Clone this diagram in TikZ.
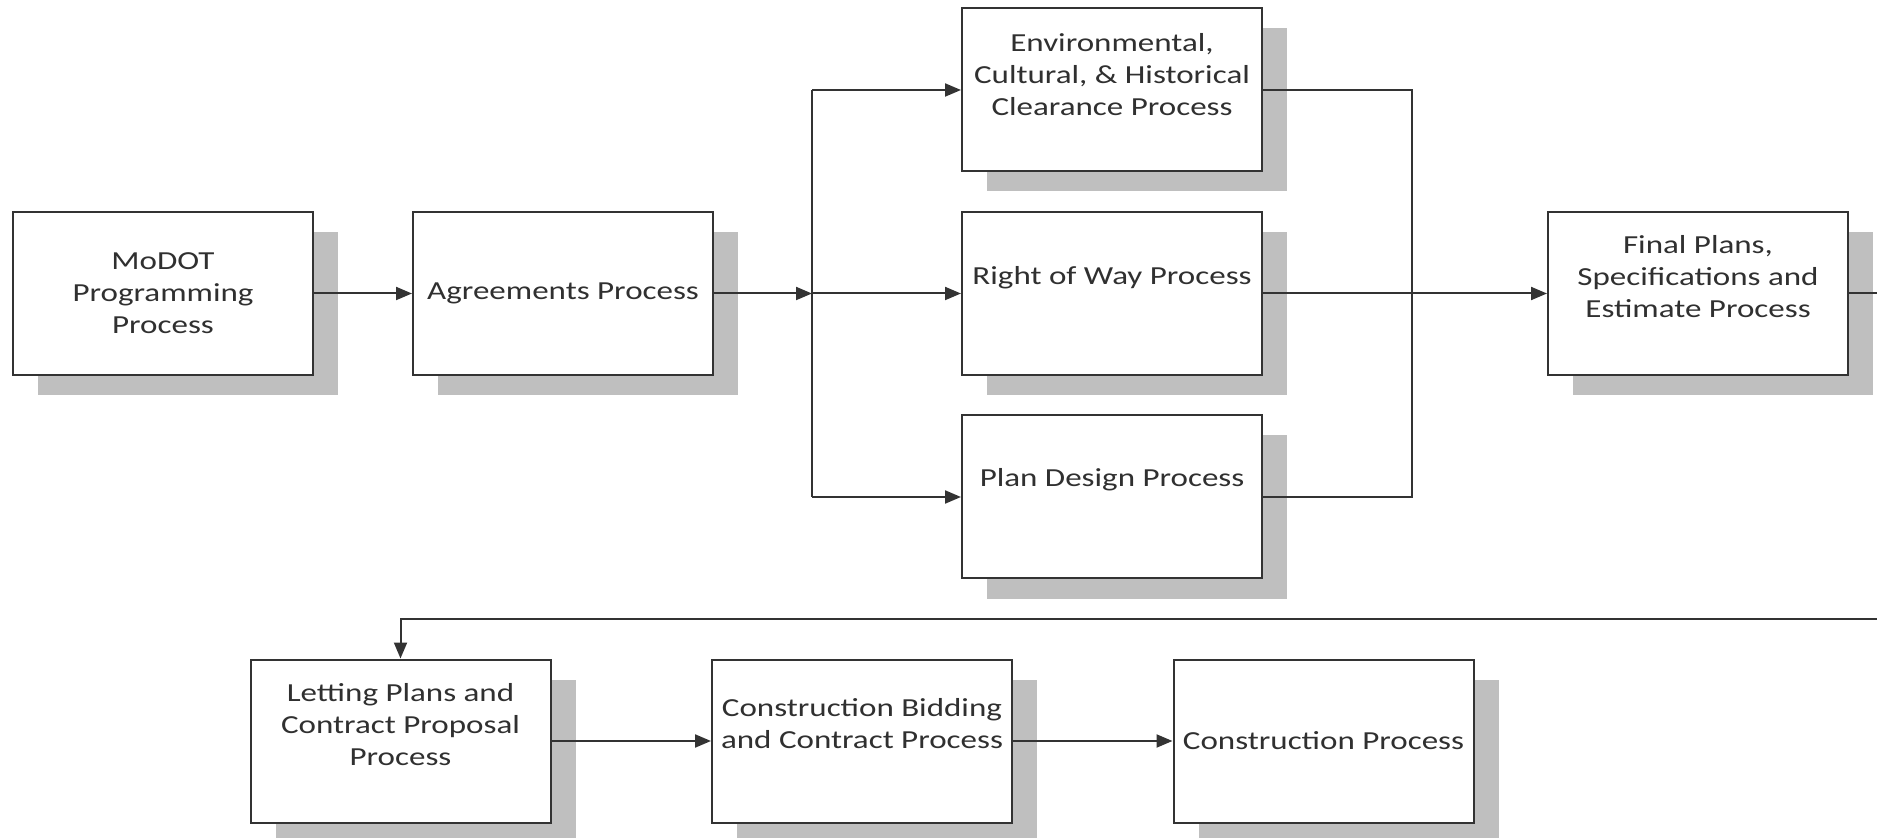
\documentclass[tikz,border=0pt]{standalone}
\usepackage{fontspec}
\setmainfont{Carlito}[FakeStretch=1.27]
\usetikzlibrary{arrows.meta,shadows}
\definecolor{linegray}{HTML}{333333}
\definecolor{shadowgray}{HTML}{BFBFBF}
\definecolor{textgray}{HTML}{303030}
\tikzset{
  procbox/.style={draw=linegray, line width=1pt, fill=white,
    minimum width=150pt, minimum height=81.5pt, inner sep=0pt,
    copy shadow={shadow xshift=12.5pt, shadow yshift=-10pt, fill=shadowgray, draw=none}},
  boxtext/.style={align=center, text=textgray, inner sep=0pt,
    font=\fontsize{13pt}{16pt}\selectfont},
  conn/.style={draw=linegray, line width=1pt},
  arr/.style={conn, -{Triangle[length=8pt,width=6.5pt]}}
}
\begin{document}
\begin{tikzpicture}[x=0.5pt,y=-0.5pt]
\useasboundingbox (0,0) rectangle (1877,838);
\clip (0,0) rectangle (1877,838);
% boxes
\node[procbox, label={[boxtext]center:MoDOT\\Programming\\Process}] (modot) at (163,293.5) {};
\node[procbox, label={[boxtext]center:Agreements Process}] (agree) at (563,293.5) {};
\node[procbox, label={[boxtext, yshift=7.5pt]center:Environmental,\\Cultural, \& Historical\\Clearance Process}] (env) at (1112,90) {};
\node[procbox, label={[boxtext, yshift=8pt]center:Right of Way Process}] (row) at (1112,293.5) {};
\node[procbox, label={[boxtext, yshift=8.5pt]center:Plan Design Process}] (plan) at (1112,497) {};
\node[procbox, label={[boxtext, yshift=8.5pt]center:Final Plans,\\Specifications and\\Estimate Process}] (final) at (1698,293.5) {};
\node[procbox, label={[boxtext, yshift=8pt]center:Letting Plans and\\Contract Proposal\\Process}] (let) at (400.5,741) {};
\node[procbox, label={[boxtext, yshift=8.5pt]center:Construction Bidding\\and Contract Process}] (bid) at (862,741) {};
\node[procbox, label={[boxtext]center:Construction Process}] (cons) at (1323.5,741) {};
% helper coordinates
\coordinate (br) at (812,293.5);
\coordinate (mg) at (1412,293.5);
\coordinate (tr) at (1886,293.5);
\coordinate (ret) at (1000,619);
% connectors
\draw[arr] (modot.east) -- (agree.west);
\draw[arr] (agree.east) -- (br);
\draw[conn] (br |- env.west) -- (br |- plan.west);
\draw[arr] (br |- env.west) -- (env.west);
\draw[arr] (br) -- (row.west);
\draw[arr] (br |- plan.west) -- (plan.west);
\draw[conn] (env.east) -- (mg |- env.east) -- (mg |- plan.east) -- (plan.east);
\draw[arr] (row.east) -- (final.west);
\draw[arr] (final.east) -- (tr) -- (tr |- ret) -- (let.north |- ret) -- (let.north);
\draw[arr] (let.east) -- (bid.west);
\draw[arr] (bid.east) -- (cons.west);
\end{tikzpicture}
\end{document}
